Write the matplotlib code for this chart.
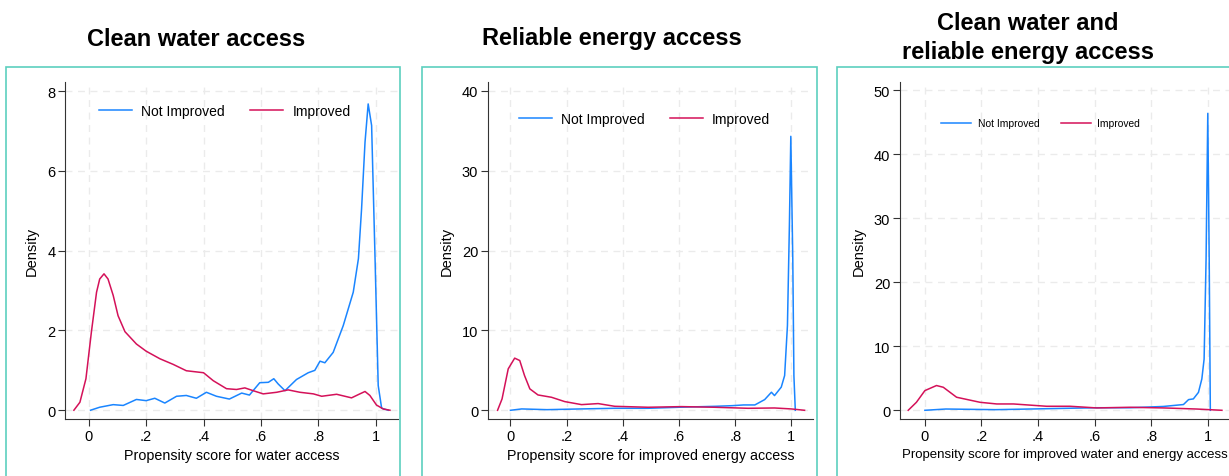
import matplotlib.pyplot as plt
from matplotlib.patches import Rectangle

plt.rcParams['font.family'] = ['Liberation Sans', 'DejaVu Sans']

BLUE = '#1a85ff'
RED = '#d41159'
TEAL = '#5ccfbf'

# panel 1: water access
w_not_x = [0.006, 0.038, 0.085, 0.12, 0.166, 0.20, 0.23, 0.265, 0.306, 0.34, 0.375, 0.41,
           0.445, 0.49, 0.533, 0.56, 0.596, 0.626, 0.645, 0.66, 0.684, 0.724, 0.765, 0.788,
           0.806, 0.823, 0.852, 0.887, 0.922, 0.94, 0.951, 0.963, 0.974, 0.986, 0.998,
           1.009, 1.021, 1.044]
w_not_y = [0.0, 0.075, 0.14, 0.12, 0.27, 0.24, 0.30, 0.18, 0.35, 0.37, 0.30, 0.45,
           0.35, 0.28, 0.43, 0.38, 0.69, 0.70, 0.79, 0.66, 0.49, 0.77, 0.94, 1.0,
           1.23, 1.19, 1.45, 2.12, 2.96, 3.8, 5.05, 6.72, 7.68, 7.14, 3.8,
           0.62, 0.05, 0.0]
w_imp_x = [-0.052, -0.031, -0.01, 0.009, 0.027, 0.038, 0.053, 0.067, 0.085, 0.102, 0.126,
           0.166, 0.20, 0.248, 0.294, 0.34, 0.40, 0.434, 0.48, 0.515, 0.544, 0.573, 0.608,
           0.655, 0.695, 0.736, 0.783, 0.812, 0.864, 0.916, 0.945, 0.963, 0.98, 1.003,
           1.027, 1.05]
w_imp_y = [0.0, 0.2, 0.79, 1.96, 2.96, 3.29, 3.42, 3.29, 2.88, 2.37, 1.97,
           1.66, 1.48, 1.29, 1.15, 0.99, 0.94, 0.74, 0.54, 0.52, 0.56, 0.49, 0.41,
           0.45, 0.51, 0.45, 0.41, 0.35, 0.40, 0.31, 0.41, 0.47, 0.37, 0.13,
           0.03, 0.0]

# panel 2: energy access
e_not_x = [0.0, 0.04, 0.13, 0.25, 0.37, 0.49, 0.6, 0.73, 0.79, 0.83, 0.87, 0.905, 0.929,
           0.94, 0.964, 0.976, 0.986, 0.993, 0.998, 1.005, 1.009, 1.014]
e_not_y = [0.0, 0.17, 0.08, 0.17, 0.25, 0.25, 0.38, 0.5, 0.58, 0.67, 0.67, 1.34, 2.26,
           1.84, 2.9, 4.35, 10.6, 23.2, 34.3, 19.0, 4.35, 0.0]
e_imp_x = [-0.046, -0.03, -0.008, 0.015, 0.033, 0.05, 0.069, 0.098, 0.146, 0.193, 0.253,
           0.312, 0.371, 0.49, 0.609, 0.727, 0.846, 0.94, 1.0, 1.047]
e_imp_y = [0.0, 1.42, 5.19, 6.53, 6.23, 4.35, 2.68, 1.92, 1.63, 1.09, 0.71,
           0.84, 0.5, 0.38, 0.46, 0.38, 0.25, 0.29, 0.17, 0.0]

# panel 3: water and energy access
b_not_x = [0.0, 0.074, 0.25, 0.37, 0.49, 0.607, 0.725, 0.843, 0.914, 0.932, 0.949, 0.967,
           0.979, 0.987, 0.994, 1.0, 1.005, 1.009]
b_not_y = [0.0, 0.2, 0.1, 0.2, 0.3, 0.4, 0.4, 0.6, 0.9, 1.67, 1.78, 2.8,
           4.9, 8.0, 23.7, 46.4, 23.7, 0.0]
b_imp_x = [-0.059, -0.03, 0.0, 0.041, 0.065, 0.112, 0.195, 0.254, 0.313, 0.43, 0.513,
           0.607, 0.725, 0.843, 0.96, 1.05]
b_imp_y = [0.0, 1.25, 3.08, 3.87, 3.6, 2.04, 1.25, 0.99, 0.99, 0.63, 0.63,
           0.37, 0.47, 0.37, 0.2, 0.0]

titles = ['Clean water access', 'Reliable energy access',
          'Clean water and\nreliable energy access']
xlabels = ['Propensity score for water access',
           'Propensity score for improved energy access',
           'Propensity score for improved water and energy access']
yticks = [[0, 2, 4, 6, 8], [0, 10, 20, 30, 40], [0, 10, 20, 30, 40, 50]]
ylims = [(-0.22, 8.23), (-1.09, 41.1), (-1.36, 51.3)]
xlims = [(-0.083, 1.078), (-0.08, 1.077), (-0.088, 1.075)]
series = [(w_not_x, w_not_y, w_imp_x, w_imp_y),
          (e_not_x, e_not_y, e_imp_x, e_imp_y),
          (b_not_x, b_not_y, b_imp_x, b_imp_y)]

W, H = 1229, 477
fig = plt.figure(figsize=(W / 100, H / 100), dpi=100)

# axes boxes in pixels: left, right, top, bottom
ax_px = [(65, 398, 83, 420), (488, 813, 83, 420), (900, 1229, 83, 420)]
frame_px = [(6, 400), (422, 817), (837, 1232)]
title_pos = [(196, 39), (612, 39), (1028, 38)]
leg_font = [10, 10, 7.4]
leg_anchor = [(0.102, 0.914), (0.095, 0.89), (0.125, 0.878)]
leg_handle = [2.4, 2.4, 2.9]
leg_colsp = [1.8, 1.8, 2.1]
xlabel_size = [10.3, 10.3, 9.5]

for i in range(3):
    l, r, t, b = ax_px[i]
    ax = fig.add_axes([l / W, 1 - b / H, (r - l) / W, (b - t) / H])
    nx, ny, ix, iy = series[i]
    ax.plot(nx, ny, color=BLUE, lw=1.1, label='Not Improved')
    ax.plot(ix, iy, color=RED, lw=1.1, label='Improved')
    ax.set_xlim(*xlims[i])
    ax.set_ylim(*ylims[i])
    ax.set_xticks([0, 0.2, 0.4, 0.6, 0.8, 1])
    ax.set_xticklabels(['0', '.2', '.4', '.6', '.8', '1'])
    ax.set_yticks(yticks[i])
    ax.grid(True, color='#ebebeb', ls=(0, (5, 4)), lw=1)
    ax.set_axisbelow(True)
    for s in ['top', 'right']:
        ax.spines[s].set_visible(False)
    for s in ['left', 'bottom']:
        ax.spines[s].set_color('#333333')
    ax.tick_params(length=5, color='#333333', labelsize=10.5, pad=2)
    ax.set_xlabel(xlabels[i], fontsize=xlabel_size[i], labelpad=4)
    ax.set_ylabel('Density', fontsize=10.5, labelpad=6)
    ax.legend(loc='center left', bbox_to_anchor=leg_anchor[i], ncol=2, frameon=False,
              fontsize=leg_font[i], handlelength=leg_handle[i], columnspacing=leg_colsp[i],
              handletextpad=0.65, borderpad=0, borderaxespad=0)

    fl, fr = frame_px[i]
    fig.patches.append(Rectangle((fl / W, -0.05), (fr - fl) / W, 1.05 - 68 / H,
                                 transform=fig.transFigure, fill=False,
                                 edgecolor=TEAL, lw=1.2))
    tx, ty = title_pos[i]
    fig.text(tx / W, 1 - ty / H, titles[i], ha='center', va='center',
             fontsize=17, fontweight='bold', linespacing=1.3)

fig.savefig('out.png', dpi=100)
